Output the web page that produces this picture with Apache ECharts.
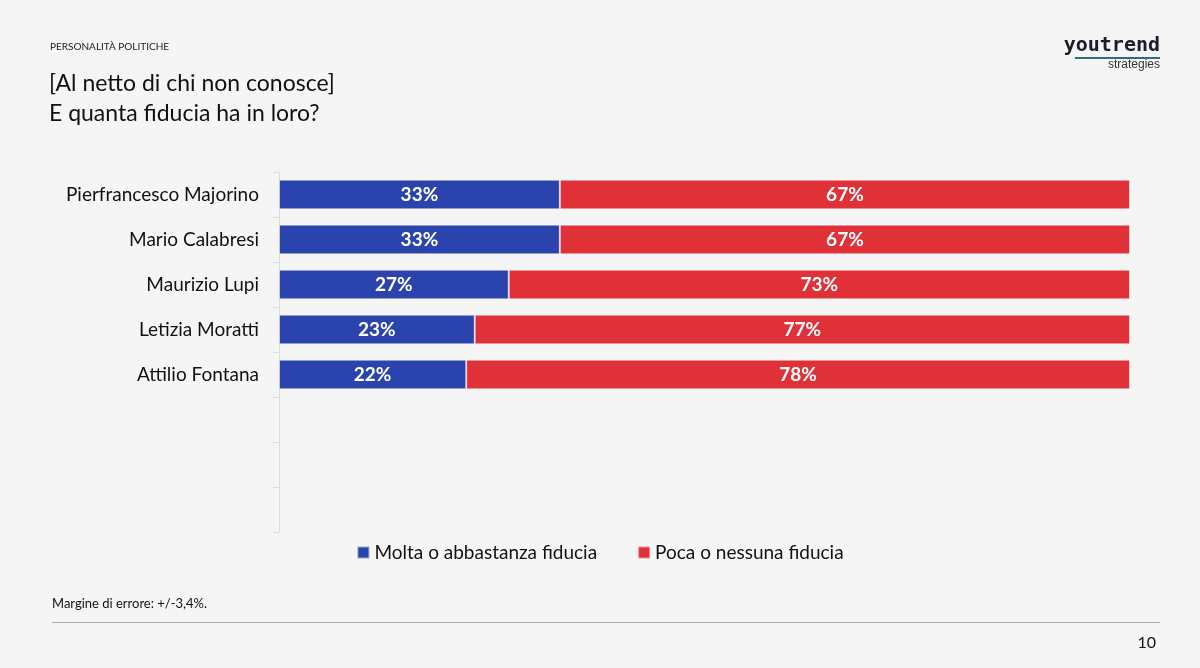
<!DOCTYPE html>
<html><head><meta charset="utf-8">
<script src="https://cdn.jsdelivr.net/npm/echarts@6/dist/echarts.min.js"></script>
<style>html,body{margin:0;padding:0;background:#f5f5f5}#c{width:1200px;height:668px}</style>
</head><body><div id="c"></div>
<script>
const categories = ['Pierfrancesco Majorino','Mario Calabresi','Maurizio Lupi','Letizia Moratti','Attilio Fontana','','',''];
const molta = [33,33,27,23,22];
const poca = [67,67,73,77,78];
const seriesNames = ['Molta o abbastanza fiducia','Poca o nessuna fiducia'];
const FONT = 'Lato, "Noto Sans", sans-serif';
const chart = echarts.init(document.getElementById('c'));
const lbl = {show:true, position:'inside', color:'#fff', fontWeight:'bold', fontSize:19, fontFamily:FONT, formatter:p=>p.value+'%'};
chart.setOption({
  backgroundColor:'#f5f5f5',
  animation:false,
  grid:{left:279, right:70, top:172, bottom:136, containLabel:false},
  xAxis:{type:'value', min:0, max:100, show:false},
  yAxis:{type:'category', data:categories, inverse:true,
    axisLine:{show:true, lineStyle:{color:'#dcdcdc', width:1}},
    axisTick:{show:true, length:6, lineStyle:{color:'#dcdcdc'}},
    axisLabel:{color:'#111', fontSize:19, fontFamily:FONT, margin:20},
    splitLine:{show:false}},
  legend:{data:seriesNames, bottom:101, left:'center', icon:'rect', itemWidth:12, itemHeight:12, itemGap:40,
    textStyle:{fontSize:19, color:'#111', fontFamily:FONT}},
  series:[
    {name:seriesNames[0], type:'bar', stack:'t', data:molta, barWidth:'66%', itemStyle:{color:'#2B44AD', borderColor:'rgba(255,255,255,0.5)', borderWidth:1}, label:lbl},
    {name:seriesNames[1], type:'bar', stack:'t', data:poca, barWidth:'66%', itemStyle:{color:'#E03038', borderColor:'rgba(255,255,255,0.5)', borderWidth:1}, label:lbl}
  ],
  graphic:[
    {type:'text', left:50, top:42, style:{text:'PERSONALITÀ POLITICHE', font:'10px '+FONT, fill:'#222'}},
    {type:'text', left:49, top:69, style:{text:'[Al netto di chi non conosce]\nE quanta fiducia ha in loro?', font:'23px '+FONT, fill:'#111', lineHeight:30}},
    {type:'text', right:40, top:36, style:{text:'youtrend', font:'bold 20px "DejaVu Sans Mono", monospace', fill:'#1c1c2c'}},
    {type:'rect', shape:{x:1075, y:57, width:85, height:2}, style:{fill:'#2e6e80'}},
    {type:'text', right:40, top:59, style:{text:'strategies', font:'12px "Liberation Sans", sans-serif', fill:'#333'}},
    {type:'text', left:52, top:597, style:{text:'Margine di errore: +/-3,4%.', font:'13px '+FONT, fill:'#111'}},
    {type:'rect', shape:{x:52, y:622, width:1108, height:1}, style:{fill:'#aaa'}},
    {type:'text', right:44, top:635, style:{text:'10', font:'16px '+FONT, fill:'#111'}}
  ]
});
</script></body></html>
